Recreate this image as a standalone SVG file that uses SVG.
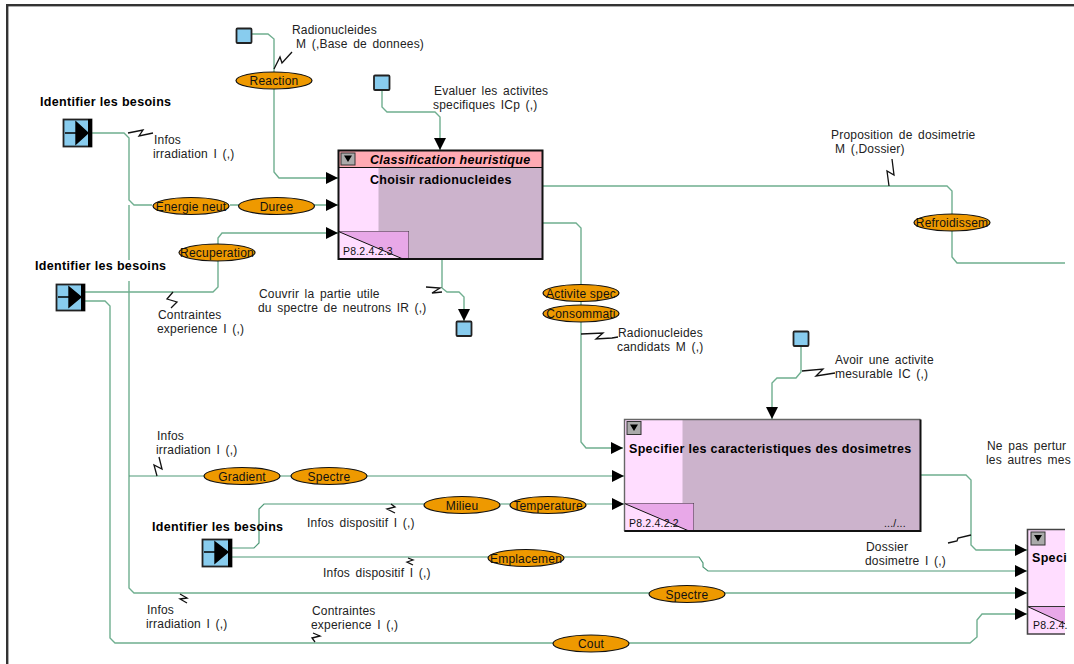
<svg xmlns="http://www.w3.org/2000/svg" width="1074" height="664" viewBox="0 0 1074 664">
<style>
text{font-family:"Liberation Sans",Arial,sans-serif;font-size:12px;fill:#222;letter-spacing:.2px;word-spacing:2px}
.b{font-weight:bold;font-size:12.5px;fill:#000;letter-spacing:.32px;word-spacing:0}
.bi{font-weight:bold;font-style:italic;font-size:12.5px;fill:#000;letter-spacing:.32px;word-spacing:0}
.s{font-size:10.5px;fill:#111;letter-spacing:.2px;word-spacing:0}
.e{font-size:12px;fill:#111;text-anchor:middle;letter-spacing:.2px;word-spacing:0}
.c{fill:none;stroke:#6fae8f;stroke-width:1.4}
.d{fill:none;stroke:#4f9a78;stroke-width:1.2}
.a{marker-end:url(#ah)}
.z{fill:none;stroke:#111;stroke-width:1.3}
.o{fill:#ee9900;stroke:#111;stroke-width:1.2}
.sq{fill:#88ccee;stroke:#222;stroke-width:1.8}
.box{stroke:#111;stroke-width:2}
.pink{fill:#ffddff}
.mauve{fill:#ccb3cc}
.btn{fill:#aaa;stroke:#333;stroke-width:1}
.tri{fill:#000}
</style>
<defs>
<marker id="ah" markerUnits="userSpaceOnUse" markerWidth="13" markerHeight="12" refX="12" refY="6" orient="auto"><path d="M0 0L12 6L0 12Z" fill="#000"/></marker>
<clipPath id="view"><rect x="0" y="0" width="1065" height="664"/></clipPath>
</defs>
<rect id="frame-top" x="6" y="4" width="1068" height="2.4" fill="#333"/>
<rect id="frame-left" x="6" y="4" width="2.4" height="660" fill="#333"/>
<g id="connectors" clip-path="url(#view)">
<path class="c a" d="M252 34H268L274 39V172L279 178H338"/>
<path class="c" d="M92 133H124L129 138V200L134 205H152"/>
<path class="c a" d="M230 205H338"/>
<path class="c" d="M129 205V260M129 281V588L134 593H660"/>
<path class="c a" d="M700 593H1027"/>
<path class="c a" d="M85 292H213L218 287V238L222 233H338"/>
<path class="c a" d="M85 301H105L110 306V638L115 643H970L977 637V620L982 614H1027"/>
<path class="c" d="M543 186H947L952 191V257L957 263H1065"/>
<path class="c a" d="M543 223H576L581 228V442L586 448H623"/>
<path class="c a" d="M382 90V107L387 112H435L440 117V150"/>
<path class="c a" d="M442 259V288L447 292H459L464 297V321"/>
<path class="c a" d="M801 346V372L796 378H777L772 383V419"/>
<path class="c a" d="M921 475H966L971 480V545L976 550H1027"/>
<path class="d a" d="M129 476H624"/>
<path class="d a" d="M232 548H254L259 543V509L264 504H624"/>
<path class="d a" d="M232 557H699L703 563V567L708 571H1027"/>
<g class="zigs">
<path class="z" d="M274 69L280 57L282 63L292 52"/>
<path class="z" d="M128 133L143 130L139 136L153 133"/>
<path class="z" d="M173 292L167 299L177 302L171 308"/>
<path class="z" d="M426 287L440 288L432 293L442 292"/>
<path class="z" d="M581 334L603 333L596 339L612 338L618 337"/>
<path class="z" d="M802 371L823 369L816 376L835 373"/>
<path class="z" d="M889 186L887 171L894 175L892 159"/>
<path class="z" d="M157 476L154 465L162 469L159 457"/>
<path class="z" d="M391 504L395 507L387 509L395 513"/>
<path class="z" d="M408 558L413 560L407 562L413 565"/>
<path class="z" d="M180 594L187 598L180 599L187 603"/>
<path class="z" d="M315 642L312 638L320 636L313 633"/>
<path class="z" d="M971 535L958 538L957 541L948 543"/>
</g>
</g>
<g id="source-top1"><rect class="sq" x="236.500" y="28.500" width="15" height="14.500" rx="1"/></g>
<g id="source-top2"><rect class="sq" x="374" y="75.500" width="15.500" height="14.500" rx="1"/></g>
<g id="sink-bottom"><rect class="sq" x="456.500" y="321.500" width="15" height="14.500" rx="1"/></g>
<g id="source-top3"><rect class="sq" x="793.500" y="331.500" width="15" height="14.500" rx="1"/></g>
<g id="entry1"><rect class="sq" x="63.500" y="119.500" width="28" height="27"/><rect x="88" y="119" width="4" height="28" fill="#000"/><path d="M65 133H77M76 122L88 133L76 144Z" fill="#000" stroke="#000" stroke-width="1.4"/><text class="b" x="40" y="105.500">Identifier les besoins</text></g>
<g id="entry2"><rect class="sq" x="56.500" y="284.500" width="28" height="26"/><rect x="81" y="284" width="4" height="27" fill="#000"/><path d="M58 297H70M69 287L81 297L69 307Z" fill="#000" stroke="#000" stroke-width="1.4"/><text class="b" x="35" y="270">Identifier les besoins</text></g>
<g id="entry3"><rect class="sq" x="202.500" y="539.500" width="29" height="27"/><rect x="228" y="539" width="4" height="28" fill="#000"/><path d="M204 552H216M215 542L228 552L215 563Z" fill="#000" stroke="#000" stroke-width="1.4"/><text class="b" x="152" y="531">Identifier les besoins</text></g>
<g id="box1">
<rect class="mauve" x="338.500" y="150.500" width="204" height="108.500"/>
<rect class="pink" x="338.500" y="167" width="40" height="92"/>
<rect x="338.500" y="150.500" width="204" height="17" fill="#ffaab3"/>
<rect x="338.500" y="231.500" width="70" height="27.500" class="pink" stroke="#333"/>
<path d="M338.500 231.500H408.500V259H403Z" fill="#e8a8e8"/>
<path d="M338.500 231.500L403 259" stroke="#111" fill="none"/>
<rect x="338.500" y="150.500" width="204" height="108.500" fill="none" class="box"/>
<path d="M338.500 167.500H542.500" stroke="#111"/>
<rect class="btn" x="341" y="153" width="14" height="12"/><path class="tri" d="M344 155.500H352L348 162Z"/>
<text class="bi" x="370" y="164">Classification heuristique</text>
<text class="b" x="370" y="184">Choisir radionucleides</text>
<text class="s" x="343" y="255">P8.2.4.2.3</text>
</g>
<g id="box2">
<rect class="mauve" x="624.500" y="419.500" width="296" height="111.500"/>
<rect class="pink" x="624.500" y="419.500" width="58" height="111.500"/>
<rect x="624.500" y="503.500" width="69" height="27.500" class="pink" stroke="#333"/>
<path d="M624.500 503.500H693.500V531H689Z" fill="#e8a8e8"/>
<path d="M624.500 503.500L689 531" stroke="#111" fill="none"/>
<path d="M624.500 531V419.500H920.500" fill="none" stroke="#666" stroke-width="1.400"/>
<path d="M920.500 419.500V531H624.500" fill="none" stroke="#111" stroke-width="2"/>
<rect class="btn" x="627" y="421.500" width="14" height="13"/><path class="tri" d="M630 424.500H638L634 431Z"/>
<text class="b" x="629" y="453">Specifier les caracteristiques des dosimetres</text>
<text class="s" x="629" y="527">P8.2.4.2.2</text>
<text class="s" x="884" y="527">.../...</text>
</g>
<g id="box3">
<g clip-path="url(#view)">
<rect class="pink" x="1027.500" y="529.500" width="60" height="105"/>
<path d="M1027.500 606.500H1087V634Z" fill="#e8a8e8"/>
<path d="M1027.500 606.500L1087 634" stroke="#111" fill="none"/>
<path d="M1027 606.500H1087" stroke="#333"/>
<path d="M1087 529.500H1027.500V634H1087" fill="none" stroke="#444" stroke-width="1.600"/>
</g>
<rect class="btn" x="1031" y="532" width="14" height="13"/><path class="tri" d="M1034 535H1042L1038 541.500Z"/>
<text class="b" x="1032" y="562">Speci</text>
<text class="s" x="1033" y="629">P8.2.4.</text>
</g>
<g id="ellipses">
<g id="o-reaction"><ellipse class="o" cx="274" cy="80.500" rx="38" ry="8.500"/><text class="e" x="274" y="85">Reaction</text></g>
<g id="o-energie"><ellipse class="o" cx="191" cy="206" rx="38" ry="8.500"/><text class="e" x="191" y="210.500">Energie neut</text></g>
<g id="o-duree"><ellipse class="o" cx="276.500" cy="206" rx="38" ry="8.500"/><text class="e" x="276.500" y="210.500">Duree</text></g>
<g id="o-recup"><ellipse class="o" cx="217" cy="252.500" rx="38" ry="8.500"/><text class="e" x="217" y="257">Recuperation</text></g>
<g id="o-activite"><ellipse class="o" cx="581" cy="293" rx="38" ry="8.500"/><text class="e" x="581" y="297.500">Activite spec</text></g>
<g id="o-conso"><ellipse class="o" cx="581" cy="313.500" rx="38" ry="8.500"/><text class="e" x="581" y="318">Consommati</text></g>
<g id="o-refroid"><ellipse class="o" cx="952" cy="222.500" rx="38" ry="8.500"/><text class="e" x="952" y="227">Refroidissem</text></g>
<g id="o-gradient"><ellipse class="o" cx="242" cy="476" rx="38" ry="8.500"/><text class="e" x="242" y="480.500">Gradient</text></g>
<g id="o-spectre1"><ellipse class="o" cx="329" cy="476" rx="38" ry="8.500"/><text class="e" x="329" y="480.500">Spectre</text></g>
<g id="o-milieu"><ellipse class="o" cx="462" cy="505" rx="38" ry="8.500"/><text class="e" x="462" y="509.500">Milieu</text></g>
<g id="o-temp"><ellipse class="o" cx="548" cy="505" rx="38" ry="8.500"/><text class="e" x="548" y="509.500">Temperature</text></g>
<g id="o-empl"><ellipse class="o" cx="526" cy="558" rx="38" ry="8.500"/><text class="e" x="526" y="562.500">Emplacemen</text></g>
<g id="o-spectre2"><ellipse class="o" cx="687" cy="594" rx="38" ry="8.500"/><text class="e" x="687" y="598.500">Spectre</text></g>
<g id="o-cout"><ellipse class="o" cx="591" cy="643.500" rx="38" ry="8.500"/><text class="e" x="591" y="648">Cout</text></g>
</g>
<g id="labels">
<text x="292" y="34">Radionucleides</text><text x="296" y="48">M (,Base de donnees)</text>
<text x="154" y="144">Infos</text><text x="153" y="158">irradiation I (,)</text>
<text x="158" y="319">Contraintes</text><text x="157" y="333">experience I (,)</text>
<text x="259" y="298">Couvrir la partie utile</text><text x="258" y="312">du spectre de neutrons IR (,)</text>
<text x="434" y="95">Evaluer les activites</text><text x="433" y="109">specifiques ICp (,)</text>
<text x="618" y="337">Radionucleides</text><text x="617" y="351">candidats M (,)</text>
<text x="835" y="364">Avoir une activite</text><text x="835" y="378">mesurable IC (,)</text>
<text x="831" y="139">Proposition de dosimetrie</text><text x="835" y="153">M (,Dossier)</text>
<text x="987" y="450">Ne pas pertur</text><text x="986" y="464">les autres mes</text>
<text x="866" y="551">Dossier</text><text x="865" y="565">dosimetre I (,)</text>
<text x="157" y="440">Infos</text><text x="156" y="454">irradiation I (,)</text>
<text x="307" y="527">Infos dispositif I (,)</text><text x="323" y="577">Infos dispositif I (,)</text>
<text x="147" y="614">Infos</text><text x="146" y="628">irradiation I (,)</text>
<text x="312" y="615">Contraintes</text><text x="311" y="629">experience I (,)</text>
</g>
</svg>
